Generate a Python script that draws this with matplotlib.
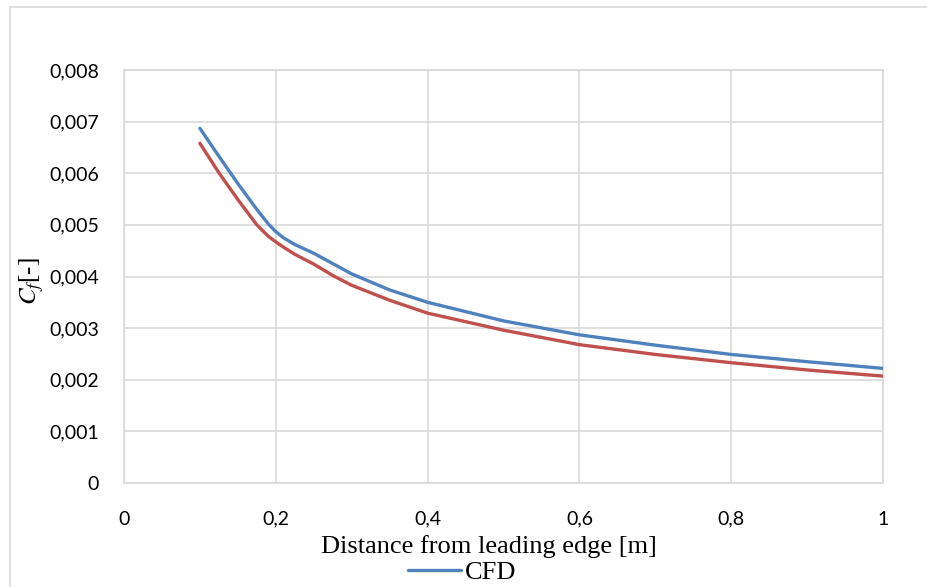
import matplotlib.pyplot as plt
from matplotlib.patches import Rectangle

# distance from leading edge [m]
x_m = [0.1, 0.125, 0.15, 0.175, 0.19, 0.2, 0.21, 0.225, 0.25, 0.275, 0.3, 0.35, 0.4, 0.5,
       0.6, 0.7, 0.8, 0.9, 1.0]
# skin friction coefficient
cf_cfd = [0.00687, 0.00633, 0.00580, 0.00530, 0.00502, 0.00487, 0.00475, 0.00462, 0.00445,
          0.00425, 0.00405, 0.00374, 0.00350, 0.00314, 0.00287, 0.00267, 0.00249, 0.00235, 0.00222]
cf_theory = [0.00658, 0.00601, 0.00549, 0.00500, 0.00478, 0.00467, 0.00457, 0.00443, 0.00424,
             0.00402, 0.00383, 0.00354, 0.00329, 0.00296, 0.00268, 0.00249, 0.00233, 0.00219, 0.00207]

xticks = [0, 0.2, 0.4, 0.6, 0.8, 1]
xticklabels = ['0', '0,2', '0,4', '0,6', '0,8', '1']
yticks = [0, 0.001, 0.002, 0.003, 0.004, 0.005, 0.006, 0.007, 0.008]
yticklabels = ['0'] + [f'0,00{i}' for i in range(1, 9)]

plt.rcParams['mathtext.fontset'] = 'stix'
grid_c = '#d9d9d9'

fig = plt.figure(figsize=(9.28, 5.87), dpi=100)
ax = fig.add_axes([124 / 928, 1 - 483 / 587, 759 / 928, 413 / 587])

line_cfd, = ax.plot(x_m, cf_cfd, color='#4f81bd', lw=2.4, solid_capstyle='round',
                    solid_joinstyle='round', zorder=3)
ax.plot(x_m, cf_theory, color='#c0504d', lw=2.4, solid_capstyle='round',
        solid_joinstyle='round', zorder=3)

ax.set_xlim(0, 1)
ax.set_ylim(0, 0.008)
ax.set_xticks(xticks)
ax.set_xticklabels(xticklabels, fontname='Lato', fontsize=14)
ax.set_yticks(yticks)
ax.set_yticklabels(yticklabels, fontname='Lato', fontsize=14)
ax.tick_params(length=0, pad=20, axis='x')
ax.tick_params(length=0, pad=18, axis='y')
ax.grid(True, color=grid_c, lw=1.2)
ax.set_axisbelow(True)
for s in ax.spines.values():
    s.set_color(grid_c)
    s.set_linewidth(1.2)

fig.text(489 / 928, 1 - 547 / 587, 'Distance from leading edge [m]', ha='center', va='center',
         fontname='Liberation Serif', fontsize=19)
fig.text(32 / 928, 1 - 281 / 587, r'$C_f$' + '[-]', rotation=90, ha='center', va='center',
         fontname='Liberation Serif', fontsize=18)

fig.legend([line_cfd], ['CFD'], loc='center', bbox_to_anchor=(462 / 928, 1 - 572 / 587),
           frameon=False, prop={'family': 'Liberation Serif', 'size': 19},
           handlelength=2.0, handletextpad=0.15, borderpad=0)

# outer chart frame (cut at right and bottom)
fig.patches.append(Rectangle((10 / 928, -0.1), 1.1, 1.1 - 7 / 587, transform=fig.transFigure,
                             fill=False, edgecolor=grid_c, lw=1.2))

fig.savefig('out.png', dpi=100)
